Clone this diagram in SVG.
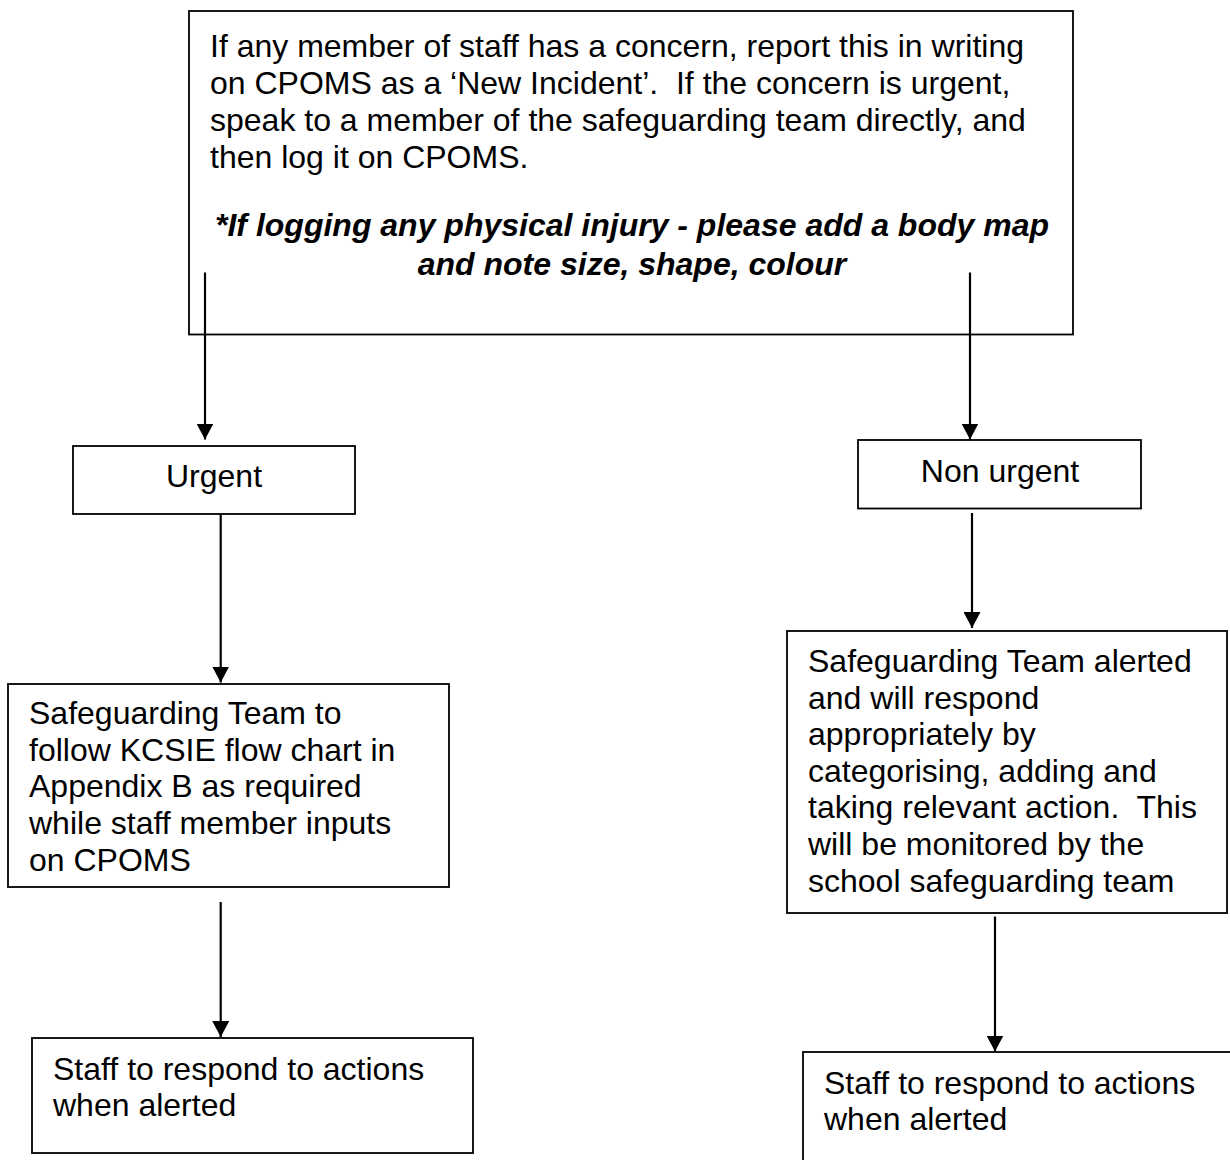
<svg xmlns="http://www.w3.org/2000/svg" width="1230" height="1160" viewBox="0 0 1230 1160">
<style>
.box{fill:#fff;stroke:#000;stroke-width:1.8}
.t{font-family:"Liberation Sans",Arial,sans-serif;font-size:32px;fill:#000}
.bi{font-weight:bold;font-style:italic}
.c{stroke:#000;stroke-width:2.2;fill:none}
</style>
<defs>
<marker id="ah" markerUnits="userSpaceOnUse" markerWidth="17" markerHeight="17" refX="16" refY="8.5" orient="auto">
<path d="M0,0 L16,8.5 L0,17 Z" fill="#000"/>
</marker>
</defs>
<rect width="1230" height="1160" fill="#fff"/>
<g id="n-report">
<rect class="box" x="189" y="11" width="884" height="323.5"/>
<text class="t" x="210" y="57">If any member of staff has a concern, report this in writing</text>
<text class="t" x="210" y="94">on CPOMS as a ‘New Incident’.&#160; If the concern is urgent,</text>
<text class="t" x="210" y="131">speak to a member of the safeguarding team directly, and</text>
<text class="t" x="210" y="168">then log it on CPOMS.</text>
<text class="t bi" x="632" y="236" text-anchor="middle">*If logging any physical injury - please add a body map</text>
<text class="t bi" x="632" y="275" text-anchor="middle">and note size, shape, colour</text>
</g>
<g id="n-urgent">
<rect class="box" x="73" y="446" width="282" height="68"/>
<text class="t" x="214" y="487" text-anchor="middle">Urgent</text>
</g>
<g id="n-nonurgent">
<rect class="box" x="858" y="440" width="283" height="68.5"/>
<text class="t" x="1000" y="481.5" text-anchor="middle">Non urgent</text>
</g>
<g id="n-team-urgent">
<rect class="box" x="8" y="684" width="441" height="203"/>
<text class="t" x="29" y="724">Safeguarding Team to</text>
<text class="t" x="29" y="760.7">follow KCSIE flow chart in</text>
<text class="t" x="29" y="797.4">Appendix B as required</text>
<text class="t" x="29" y="834">while staff member inputs</text>
<text class="t" x="29" y="870.7">on CPOMS</text>
</g>
<g id="n-team-nonurgent">
<rect class="box" x="787" y="631" width="440" height="282"/>
<text class="t" x="808" y="672">Safeguarding Team alerted</text>
<text class="t" x="808" y="708.6">and will respond</text>
<text class="t" x="808" y="745.2">appropriately by</text>
<text class="t" x="808" y="781.8">categorising, adding and</text>
<text class="t" x="808" y="818.4">taking relevant action.&#160; This</text>
<text class="t" x="808" y="855">will be monitored by the</text>
<text class="t" x="808" y="891.6">school safeguarding team</text>
</g>
<g id="n-staff-left">
<rect class="box" x="32" y="1038" width="441" height="115"/>
<text class="t" x="53" y="1080">Staff to respond to actions</text>
<text class="t" x="53" y="1116">when alerted</text>
</g>
<g id="n-staff-right">
<rect class="box" x="803" y="1052" width="440" height="120"/>
<text class="t" x="824" y="1094">Staff to respond to actions</text>
<text class="t" x="824" y="1130">when alerted</text>
</g>
<g id="connectors">
<line class="c" x1="205" y1="272.5" x2="205" y2="439.5" marker-end="url(#ah)"/>
<line class="c" x1="970" y1="272.5" x2="970" y2="439.5" marker-end="url(#ah)"/>
<line class="c" x1="220.7" y1="514" x2="220.7" y2="682.5" marker-end="url(#ah)"/>
<line class="c" x1="972" y1="513" x2="972" y2="628" marker-end="url(#ah)"/>
<line class="c" x1="220.7" y1="902" x2="220.7" y2="1037" marker-end="url(#ah)"/>
<line class="c" x1="995" y1="916.5" x2="995" y2="1051.5" marker-end="url(#ah)"/>
</g>
</svg>
